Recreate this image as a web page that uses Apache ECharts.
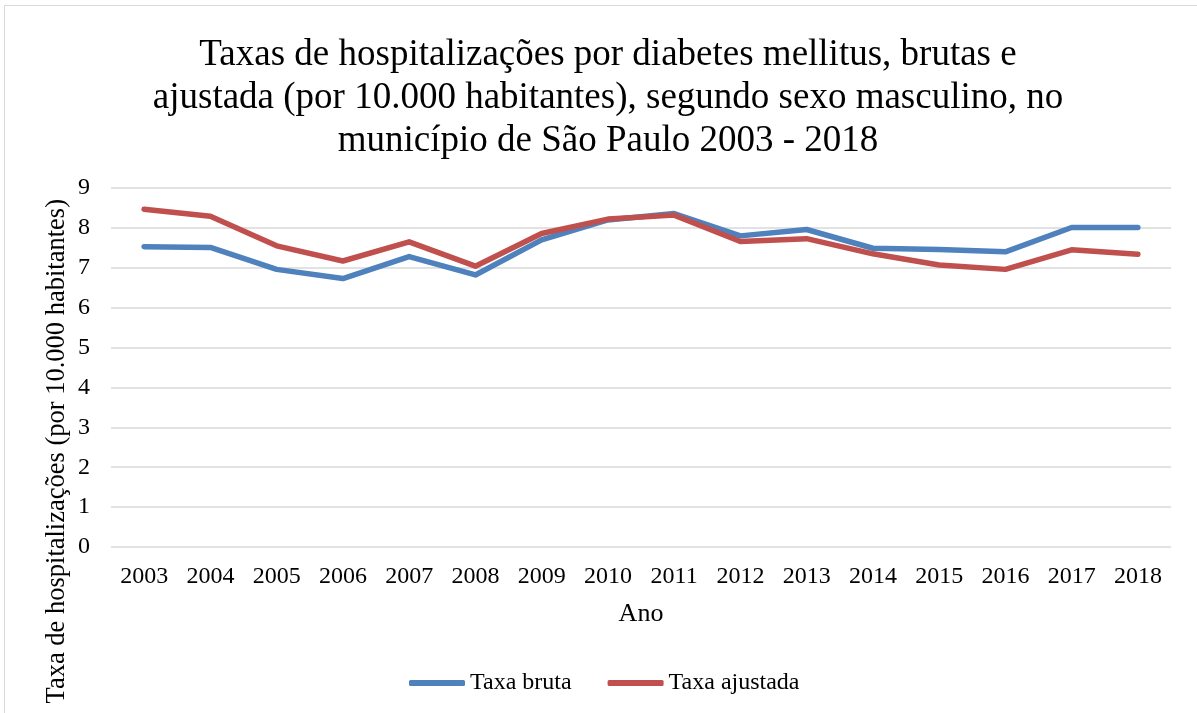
<!DOCTYPE html>
<html><head><meta charset="utf-8">
<script src="https://cdn.jsdelivr.net/npm/echarts@6/dist/echarts.min.js"></script>
<style>html,body{margin:0;padding:0;background:#fff}
#frame{position:absolute;left:4px;top:5px;width:1200px;height:720px;border:1.5px solid #d9d9d9;box-sizing:border-box}
#c{position:absolute;left:0;top:0;width:1197px;height:713px}</style>
</head><body><div id="frame"></div><div id="c"></div>
<script>
const years = ['2003','2004','2005','2006','2007','2008','2009','2010','2011','2012','2013','2014','2015','2016','2017','2018'];
const taxaBruta = [7.53,7.51,6.96,6.73,7.28,6.82,7.70,8.20,8.36,7.80,7.96,7.49,7.46,7.40,8.01,8.01];
const taxaAjustada = [8.47,8.29,7.55,7.17,7.65,7.04,7.86,8.22,8.32,7.66,7.73,7.35,7.07,6.96,7.45,7.34];
const yTicks = [0,1,2,3,4,5,6,7,8,9];
const font = 'Liberation Serif, Times New Roman, serif';
const chart = echarts.init(document.getElementById('c'));
chart.setOption({
  animation:false,
  title:{text:'Taxas de hospitalizações por diabetes mellitus, brutas e\najustada (por 10.000 habitantes), segundo sexo masculino, no\nmunicípio de São Paulo 2003 - 2018',
    left:603, top:29, textAlign:'center', textStyle:{fontFamily:font,fontSize:37,fontWeight:'normal',color:'#000',lineHeight:43}},
  grid:{left:111,top:188,width:1060,height:359},
  legend:{bottom:13,left:404,itemWidth:56,itemHeight:6,itemGap:36,icon:'roundRect',
    textStyle:{fontFamily:font,fontSize:24,color:'#000'},data:['Taxa bruta','Taxa ajustada']},
  xAxis:{type:'category',data:years,boundaryGap:true,name:'Ano',nameLocation:'middle',nameGap:54,
    nameTextStyle:{fontFamily:font,fontSize:26,color:'#000'},
    axisLine:{show:false},axisTick:{show:false},
    axisLabel:{fontFamily:font,fontSize:24,color:'#000',margin:18}},
  yAxis:{type:'value',min:0,max:9,interval:1,
    axisLine:{show:false},axisTick:{show:false},
    axisLabel:{fontFamily:font,fontSize:24,color:'#000',margin:21,formatter:v=>yTicks.includes(v)?String(v):''},
    splitLine:{lineStyle:{color:'#d9d9d9',width:1.5}}},
  graphic:[{type:'text',left:44,top:199,rotation:Math.PI/2,
    style:{text:'Taxa de hospitalizações (por 10.000 habitantes)',font:'26.5px '+font,fill:'#000'}}],
  series:[
    {name:'Taxa bruta',type:'line',data:taxaBruta,symbol:'none',lineStyle:{width:5.5,color:'#4F81BD',cap:'round',join:'round'},itemStyle:{color:'#4F81BD'}},
    {name:'Taxa ajustada',type:'line',data:taxaAjustada,symbol:'none',lineStyle:{width:5.5,color:'#C0504D',cap:'round',join:'round'},itemStyle:{color:'#C0504D'}}
  ]
});
</script></body></html>
